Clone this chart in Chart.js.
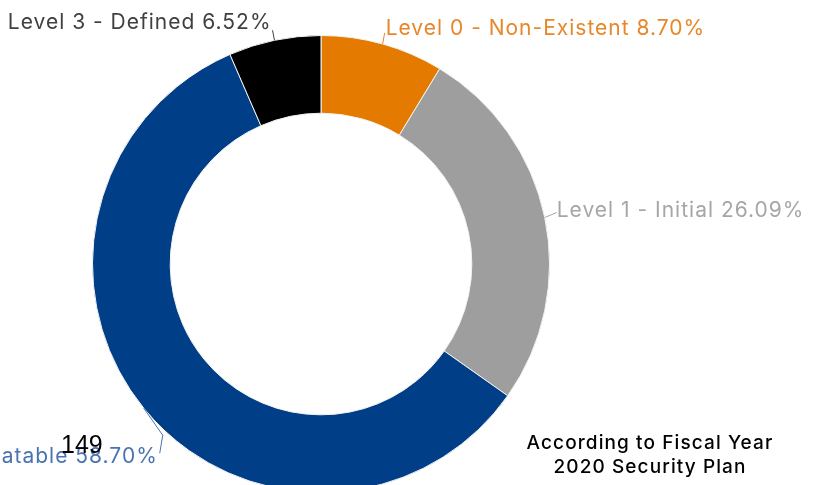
<!DOCTYPE html>
<html>
<head>
<meta charset="utf-8">
<script src="https://cdn.jsdelivr.net/npm/chart.js@4.4.1/dist/chart.umd.min.js"></script>
<style>
    html, body { margin: 0; padding: 0; background: #fff; overflow: hidden; }
    #wrap { position: relative; width: 817px; height: 530px; }
    #note {
        position: absolute; left: 490px; top: 431px; width: 320px;
        text-align: center; font: 500 19px "Inter", sans-serif; line-height: 24px;
        letter-spacing: 1.1px; color: #000;
    }
    #count {
        position: absolute; left: 61px; top: 430px;
        font: 25px "Liberation Sans", Arial, sans-serif; color: #000;
    }
</style>
</head>
<body>
<div id="wrap">
    <canvas id="maturity-chart" width="817" height="530"></canvas>
    <div id="count">149</div>
    <div id="note">According to Fiscal Year<br>2020 Security Plan</div>
</div>
<script>
// data
const levels   = ["Level 0 - Non-Existent", "Level 1 - Initial", "Level 2 - Repeatable", "Level 3 - Defined"];
const counts   = [4, 12, 27, 3];
const percents = ["8.70%", "26.09%", "58.70%", "6.52%"];

const sliceColors = ["#E47B00", "#9E9E9E", "#003F87", "#000000"];
const labelColors = ["#E8862A", "#A6A6A6", "#4A74B0", "#404040"];

// leader line bends + text anchor, relative to the slice's outer mid point
const leaders = [
    { pts: [[2, -11]], text: [3, -9], align: "left" },
    { pts: [[12, -5]], text: [12, -1], align: "left" },
    { pts: [[19, 27], [16, 45]], text: [14, 55], align: "right" },
    { pts: [[-2, -10]], text: [-3, -11], align: "right" },
];

const labelPlugin = {
    id: "sliceLabels",
    afterDatasetsDraw(chart) {
        const ctx = chart.ctx;
        const arcs = chart.getDatasetMeta(0).data;
        ctx.save();
        ctx.font = '21px "Inter", sans-serif';
        ctx.letterSpacing = "1px";
        arcs.forEach((arc, i) => {
            const p = arc.getProps(["x", "y", "startAngle", "endAngle", "outerRadius"], true);
            const mid = (p.startAngle + p.endAngle) / 2;
            const ax = p.x + Math.cos(mid) * p.outerRadius;
            const ay = p.y + Math.sin(mid) * p.outerRadius;
            const ld = leaders[i];

            ctx.strokeStyle = labelColors[i];
            ctx.lineWidth = 1;
            ctx.beginPath();
            ctx.moveTo(ax, ay);
            ld.pts.forEach(pt => ctx.lineTo(ax + pt[0], ay + pt[1]));
            ctx.stroke();

            ctx.fillStyle = labelColors[i];
            ctx.textAlign = ld.align;
            ctx.textBaseline = "alphabetic";
            ctx.fillText(levels[i] + " " + percents[i], ax + ld.text[0], ay + ld.text[1]);
        });
        ctx.restore();
    }
};

new Chart(document.getElementById("maturity-chart"), {
    type: "doughnut",
    data: {
        labels: levels,
        datasets: [{
            data: counts,
            backgroundColor: sliceColors,
            borderColor: "#f2f2f2",
            borderWidth: 1,
        }],
    },
    options: {
        responsive: false,
        animation: false,
        cutout: "66%",
        layout: { padding: { left: 92, top: 35, right: 267, bottom: 37 } },
        plugins: {
            legend: { display: false },
            tooltip: { enabled: false },
        },
    },
    plugins: [labelPlugin],
});
</script>
</body>
</html>
